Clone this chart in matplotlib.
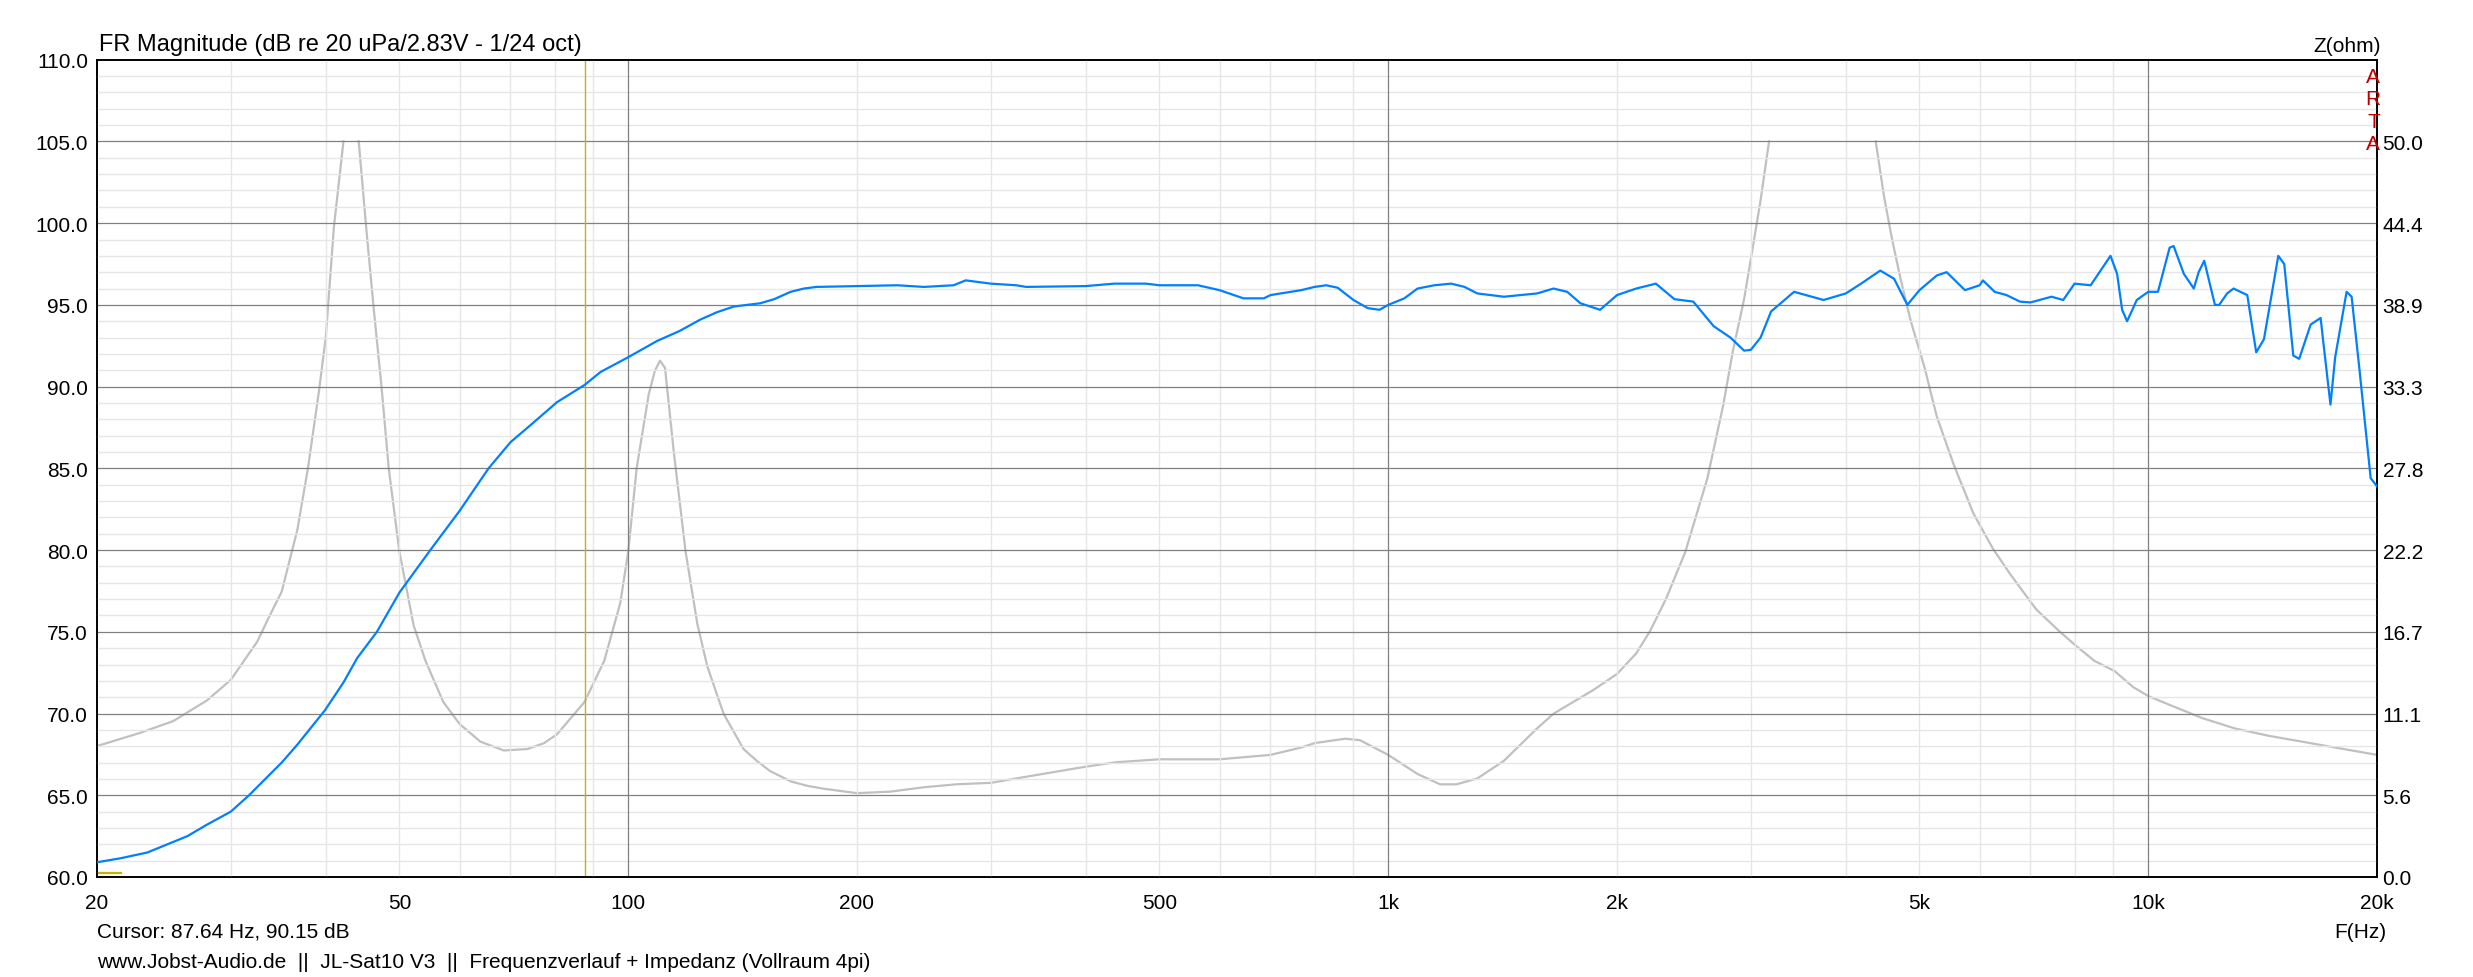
import numpy as np
import matplotlib
matplotlib.use('Agg')
import matplotlib.pyplot as plt
from matplotlib.ticker import FixedLocator, NullLocator

plt.rcParams['font.family'] = ['Liberation Sans', 'DejaVu Sans']

# frequency response (Hz, dB)
fr_hz = [20, 21.5, 23.3, 26.3, 27.9, 30, 31.7, 35.0, 36.7, 39.9, 42.2, 44.0, 46.7,
         50, 54.9, 60, 65.5, 70, 74.4, 80.6, 87.6, 92.0,
         100, 109.2, 116.8, 124.4, 130.8, 137.7, 149.2, 155.6, 163.6, 170.3, 177, 200, 226, 245,
         268, 278, 300, 324, 334,
         400, 436, 480, 500, 562, 600, 645, 686, 700, 768, 800, 829, 858, 900, 940, 974,
         1000, 1050, 1093, 1150, 1210, 1260, 1310, 1420, 1570, 1650, 1720, 1790, 1900,
         2000, 2120, 2250, 2380, 2520, 2680, 2820, 2940, 3000, 3090, 3190, 3420, 3740,
         4000, 4190, 4440, 4630, 4820, 5000, 5270, 5430, 5740, 6000, 6060, 6280, 6510, 6780,
         7000, 7460, 7730, 8000, 8400, 8920, 9100, 9240, 9380, 9660, 10000, 10300, 10670,
         10800, 11140, 11480, 11650, 11850, 12240, 12400, 12700, 12950, 13500, 13870, 14200,
         14830, 15100, 15520, 15800, 16360, 16860, 17000, 17370, 17620, 18240, 18520, 18960,
         19620, 20000]
fr_db = [60.9, 61.15, 61.5, 62.5, 63.2, 64.0, 65.0, 67.0, 68.1, 70.2, 71.9, 73.4, 75.0,
         77.4, 80.0, 82.4, 85.0, 86.6, 87.65, 89.05, 90.1, 90.9,
         91.8, 92.8, 93.4, 94.1, 94.55, 94.9, 95.1, 95.35, 95.8, 96.0, 96.1, 96.15, 96.2, 96.1,
         96.2, 96.5, 96.3, 96.2, 96.1,
         96.15, 96.3, 96.3, 96.2, 96.2, 95.9, 95.4, 95.4, 95.6, 95.9, 96.1, 96.2, 96.05, 95.3, 94.8, 94.7,
         95.0, 95.4, 96.0, 96.2, 96.3, 96.1, 95.7, 95.5, 95.7, 96.0, 95.8, 95.1, 94.7,
         95.6, 96.0, 96.3, 95.35, 95.2, 93.7, 93.0, 92.2, 92.25, 93.0, 94.6, 95.8, 95.3,
         95.7, 96.3, 97.1, 96.6, 95.0, 95.9, 96.8, 97.0, 95.9, 96.2, 96.5, 95.8, 95.6, 95.2,
         95.15, 95.5, 95.3, 96.3, 96.2, 98.0, 96.9, 94.7, 94.0, 95.3, 95.8, 95.8, 98.5,
         98.6, 96.9, 96.0, 97.0, 97.7, 95.0, 95.0, 95.7, 96.0, 95.6, 92.1, 92.9,
         98.0, 97.5, 91.9, 91.7, 93.8, 94.2, 92.7, 88.9, 91.8, 95.8, 95.5, 91.1,
         84.4, 83.9]

# impedance (Hz, ohm), ARTA clips it at 50 ohm
imp_hz = [20, 22.8, 25.2, 27.9, 30, 32.5, 33.7, 35.0, 36.7, 37.9, 39.2, 40, 41.0, 42.2, 44.2, 45.2,
          46.2, 47.4, 48.4, 50, 52.2, 54.1, 57.1, 60, 63.9, 68.6, 73.7, 77.5, 80.6, 87.6, 93.0,
          97.6, 100, 102.6, 106.4, 108.4, 110.1, 111.8, 114.8, 119.0, 123.3, 127.1, 133.5,
          141.8, 147.6, 153.7, 163.6, 172, 180.8, 200, 221, 245, 270, 300, 324, 360, 400, 438,
          500, 600, 700, 768, 800, 878, 918, 1000, 1093, 1170, 1230, 1310, 1420, 1570, 1650,
          1860, 2000, 2120, 2210, 2320, 2460, 2630, 2760, 2840, 2940, 3000, 3090, 3170, 4380,
          4490, 4600, 4720, 4870, 5080, 5270, 5550, 5890, 6250, 6580, 7120, 7640, 8000, 8490,
          9030, 9560, 10000, 10670, 11780, 13000, 14400, 15940, 17620, 20000]
imp_ohm = [8.9, 9.8, 10.6, 12.0, 13.4, 16.0, 17.7, 19.4, 23.6, 27.8, 33.1, 36.7, 44.2, 50.0, 50.0, 44.2,
           38.9, 33.1, 27.8, 22.1, 17.1, 14.7, 11.9, 10.4, 9.2, 8.6, 8.7, 9.1, 9.7, 11.9, 14.7,
           18.6, 22.1, 27.8, 32.8, 34.4, 35.1, 34.6, 28.9, 22.1, 17.2, 14.3, 11.1,
           8.7, 7.9, 7.2, 6.5, 6.2, 6.0, 5.7, 5.8, 6.1, 6.3, 6.4, 6.7, 7.1, 7.5, 7.8,
           8.0, 8.0, 8.3, 8.8, 9.1, 9.4, 9.3, 8.3, 7.0, 6.3, 6.3, 6.7, 7.9, 10.1, 11.1,
           12.7, 13.8, 15.2, 16.7, 18.9, 22.1, 27.1, 32.1, 35.7, 39.3, 42.0, 46.0, 50.0, 50.0,
           46.3, 43.4, 40.7, 37.8, 34.6, 31.3, 28.0, 24.7, 22.3, 20.6, 18.2, 16.7, 15.8, 14.7,
           14.0, 12.9, 12.3, 11.7, 10.8, 10.1, 9.6, 9.2, 8.8, 8.3]

cursor_hz = 87.64
cursor_db = 90.15
marker_hz = [20, 21.5]
marker_db = 60.25
z_clip = 50.0

xtick_vals = [20, 50, 100, 200, 500, 1000, 2000, 5000, 10000, 20000]
xtick_text = ['20', '50', '100', '200', '500', '1k', '2k', '5k', '10k', '20k']
db_min, db_max = 60, 110
ohm_ticks = [i * 50 / 9 for i in range(10)]

W, H = 2473, 978
fig = plt.figure(figsize=(W / 100, H / 100), dpi=100)
fig.patch.set_facecolor('white')
left, right, top, bottom = 97, 2377, 60.7, 878
ax = fig.add_axes([left / W, 1 - bottom / H, (right - left) / W, (bottom - top) / H])
ax2 = ax.twinx()
ax.set_zorder(ax2.get_zorder() + 1)
ax.patch.set_visible(False)

ax.set_xscale('log')
ax.set_xlim(20, 20000)
ax.set_ylim(db_min, db_max)
ax2.set_ylim(0, 50 / 9 * 10)

# grid like ARTA: dark lines on decades / 5 dB, light ones in between
light = '#e6e6e6'
dark = '#808080'
for dec in [10, 100, 1000, 10000]:
    for k in range(2, 10):
        f = k * dec
        if 20 < f < 20000:
            ax.axvline(f, color=light, lw=1.0, zorder=0.5)
for f in [100, 1000, 10000]:
    ax.axvline(f, color=dark, lw=0.9, zorder=0.6)
for d in range(db_min + 1, db_max):
    if d % 5:
        ax.axhline(d, color=light, lw=1.0, zorder=0.5)
    else:
        ax.axhline(d, color=dark, lw=0.9, zorder=0.6)

# impedance is cut at the top of its scale: break the line between clipped points
zf = np.array(imp_hz, float)
zv = np.array(imp_ohm, float)
gap = np.where((zv[:-1] >= z_clip) & (zv[1:] >= z_clip))[0] + 1
zf = np.insert(zf, gap, np.nan)
zv = np.insert(zv, gap, np.nan)
ax2.plot(zf, zv, color='#c0c0c0', lw=1.6)

ax.plot(fr_hz, fr_db, color='#0080ff', lw=1.6, zorder=3)
ax.axvline(cursor_hz, color='#c8b400', lw=1.0, zorder=2)
ax.plot(marker_hz, [marker_db, marker_db], color='#c8b400', lw=1.6, zorder=2)

fs = 15
ax.xaxis.set_major_locator(FixedLocator(xtick_vals))
ax.xaxis.set_minor_locator(NullLocator())
ax.set_xticklabels(xtick_text)
ax.set_yticks(range(db_min, db_max + 1, 5))
ax.set_yticklabels(['%.1f' % v for v in range(db_min, db_max + 1, 5)])
ax2.set_yticks(ohm_ticks)
ax2.set_yticklabels(['%.1f' % v for v in ohm_ticks])
ax.tick_params(axis='x', length=0, pad=11.5, labelsize=fs)
ax.tick_params(axis='y', length=0, pad=6.5, labelsize=fs)
ax2.tick_params(axis='y', length=0, pad=4, labelsize=fs)
for a in (ax, ax2):
    for s in a.spines.values():
        s.set_color('black')
        s.set_linewidth(1.2)

fig.text(99 / W, 1 - 50.5 / H, 'FR Magnitude (dB re 20 uPa/2.83V - 1/24 oct)', fontsize=17,
         ha='left', va='baseline')
fig.text((right + 4) / W, 1 - 52.5 / H, 'Z(ohm)', fontsize=fs, ha='right', va='baseline')
for i, ch in enumerate('ARTA'):
    fig.text((right + 3) / W, 1 - (83 + 22.4 * i) / H, ch, fontsize=fs, color='#c00000',
             ha='right', va='baseline')
fig.text((right + 9) / W, 1 - 938 / H, 'F(Hz)', fontsize=fs, ha='right', va='baseline')
fig.text(97 / W, 1 - 938 / H, 'Cursor: %.2f Hz, %.2f dB' % (cursor_hz, cursor_db), fontsize=fs,
         ha='left', va='baseline')
fig.text(97 / W, 1 - 968 / H,
         'www.Jobst-Audio.de  ||  JL-Sat10 V3  ||  Frequenzverlauf + Impedanz (Vollraum 4pi)',
         fontsize=fs, ha='left', va='baseline')

fig.savefig('out.png', dpi=100, facecolor='white')
